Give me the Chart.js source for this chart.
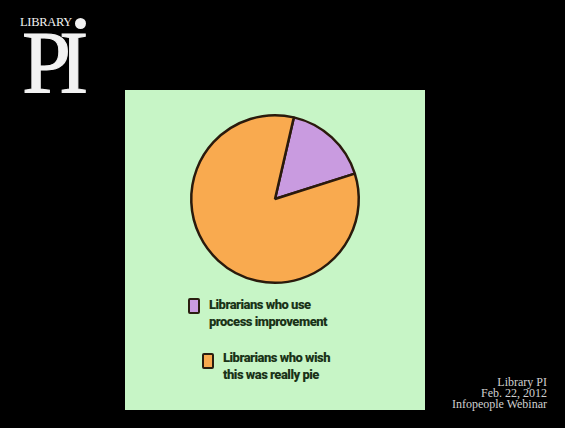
<!DOCTYPE html>
<html>
<head>
<meta charset="utf-8">
<script src="https://cdn.jsdelivr.net/npm/chart.js@4.4.0/dist/chart.umd.min.js"></script>
<style>
  html, body { margin: 0; padding: 0; background: #000; }
  body { width: 565px; height: 428px; position: relative; overflow: hidden; font-family: "Liberation Serif", serif; }
  #logo-lib { position: absolute; left: 20px; top: 15px; color: #f2f2f2; font-size: 12.5px; letter-spacing: -0.3px; }
  #logo-dot { position: absolute; left: 75px; top: 18px; width: 11px; height: 11px; border-radius: 50%; background: #f2f2f2; }
  #logo-pi { position: absolute; left: 22px; top: 19px; color: #f2f2f2; font-size: 88px; line-height: 88px; letter-spacing: -12px; -webkit-text-stroke: 1px #f2f2f2; }
  #painel { position: absolute; left: 125px; top: 90px; width: 300px; height: 320px; background: #c7f5c6; }
  #wrap-pizza { position: absolute; left: 0; top: 19px; width: 300px; height: 180px; }
  .item { position: absolute; font-family: Roboto, sans-serif; font-weight: 900; font-size: 13px; line-height: 17px; color: #1a3318; letter-spacing: -0.5px; }
  .quad { position: absolute; width: 8px; height: 12px; border: 2px solid #2a1e10; border-radius: 2px; }
  #rodape { position: absolute; right: 18px; top: 377px; text-align: right; color: #d0d0d0; font-size: 12px; line-height: 11px; }
</style>
</head>
<body>
<div id="logo-lib">LIBRARY</div>
<div id="logo-dot"></div>
<div id="logo-pi">PI</div>

<div id="painel">
  <div id="wrap-pizza"><canvas id="pizza"></canvas></div>
  <div id="legenda"></div>
</div>

<div id="rodape">Library PI<br>Feb. 22, 2012<br>Infopeople Webinar</div>

<script>
const categorias = [
  ['Librarians who use', 'process improvement'],
  ['Librarians who wish', 'this was really pie']
];
const valores = [16.5, 83.5];
const cores = ['#c99be0', '#f9aa4f'];

// posicoes da legenda desenhada a mao (relativas ao painel)
const posLegenda = [
  { quadX: 63, quadY: 208, textoX: 84, textoY: 206 },
  { quadX: 77, quadY: 263, textoX: 98, textoY: 259 }
];

const legenda = document.getElementById('legenda');
categorias.forEach((linhas, i) => {
  const p = posLegenda[i];
  const q = document.createElement('div');
  q.className = 'quad';
  q.style.left = p.quadX + 'px';
  q.style.top = p.quadY + 'px';
  q.style.background = cores[i];
  legenda.appendChild(q);

  const t = document.createElement('div');
  t.className = 'item';
  t.style.left = p.textoX + 'px';
  t.style.top = p.textoY + 'px';
  t.innerHTML = linhas.join('<br>');
  legenda.appendChild(t);
});

new Chart(document.getElementById('pizza'), {
  type: 'pie',
  data: {
    labels: categorias.map(l => l.join(' ')),
    datasets: [{
      data: valores,
      backgroundColor: cores,
      borderColor: '#2a1a0c',
      borderWidth: 2.5
    }]
  },
  options: {
    responsive: true,
    maintainAspectRatio: false,
    animation: false,
    rotation: 13,
    layout: { padding: 5 },
    plugins: {
      legend: { display: false },
      tooltip: { enabled: false }
    }
  }
});
</script>
</body>
</html>
